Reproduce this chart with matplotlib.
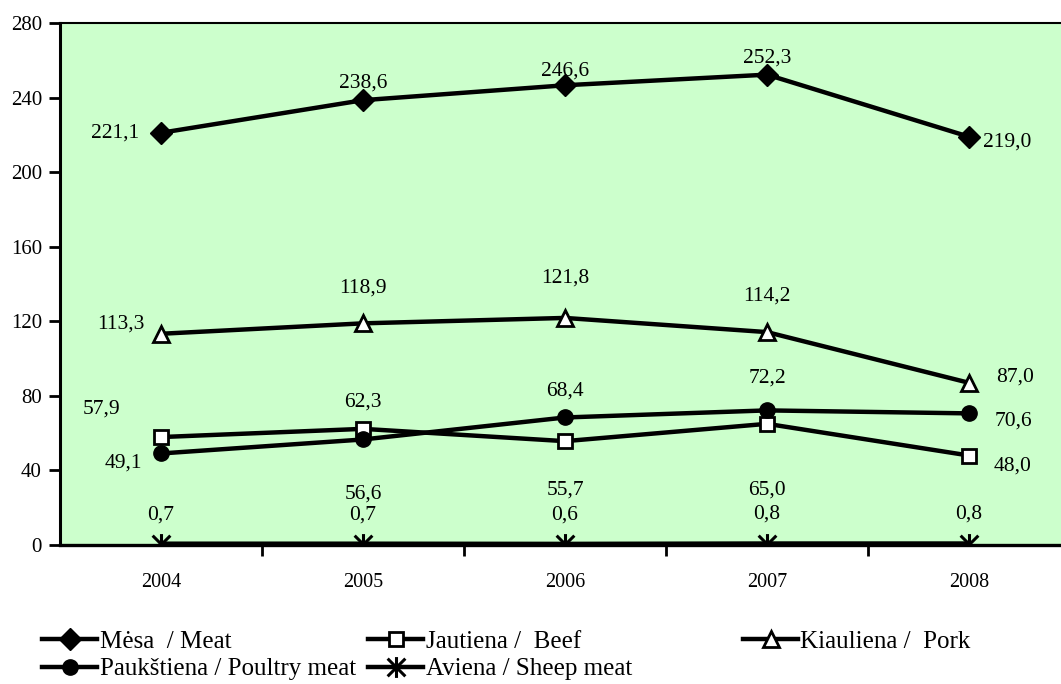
import numpy as np
import matplotlib
matplotlib.use("Agg")
import matplotlib.pyplot as plt
from matplotlib.path import Path

plt.rcParams['font.family'] = ['Liberation Serif', 'DejaVu Serif']

years = ["2004", "2005", "2006", "2007", "2008"]
meat = [221.1, 238.6, 246.6, 252.3, 219.0]
beef = [57.9, 62.3, 55.7, 65.0, 48.0]
pork = [113.3, 118.9, 121.8, 114.2, 87.0]
poultry = [49.1, 56.6, 68.4, 72.2, 70.6]
sheep = [0.7, 0.7, 0.6, 0.8, 0.8]

labels = ["Mėsa  / Meat", "Jautiena /  Beef", "Kiauliena /  Pork",
          "Paukštiena / Poultry meat", "Aviena / Sheep meat"]

# label offsets in pixels (dx, dy) for each point
off_meat = [(-46, 0), (0, 17), (0, 14), (0, 17), (38, -5)]
off_beef = [(-60, 28), (0, 27), (0, -49), (0, -66), (44, -11)]
off_pork = [(-40, 10), (0, 35), (0, 40), (0, 36), (46, 6)]
off_poultry = [(-38, -10), (0, -55), (0, 26), (0, 32), (44, -8)]
off_sheep = [(0, 29)] * 5

# asterisk: vertical line + X
star = Path([(0, -1), (0, 1), (-0.85, -0.85), (0.85, 0.85), (-0.85, 0.85), (0.85, -0.85)],
            [Path.MOVETO, Path.LINETO, Path.MOVETO, Path.LINETO, Path.MOVETO, Path.LINETO])

fig = plt.figure(figsize=(10.61, 6.84), dpi=100)
ax = fig.add_axes([60 / 1061, 139 / 684, 1010 / 1061, 522 / 684])
ax.set_facecolor("#ccffcc")

x = np.arange(len(years))
lw = 3.2
h_meat, = ax.plot(x, meat, color="black", lw=lw, marker="D", ms=11, mfc="black", mec="black")
h_beef, = ax.plot(x, beef, color="black", lw=lw, marker="s", ms=10, mfc="white", mec="black", mew=2)
h_pork, = ax.plot(x, pork, color="black", lw=lw, marker="^", ms=12, mfc="white", mec="black", mew=2)
h_poul, = ax.plot(x, poultry, color="black", lw=lw, marker="o", ms=11, mfc="black", mec="black")
h_sheep, = ax.plot(x, sheep, color="black", lw=lw, marker=star, ms=15, mfc="none", mec="black", mew=2.2)

def fmt(v):
    return f"{v:.1f}".replace(".", ",")

for vals, offs in [(meat, off_meat), (beef, off_beef), (pork, off_pork),
                   (poultry, off_poultry), (sheep, off_sheep)]:
    for i, v in enumerate(vals):
        ax.annotate(fmt(v), (x[i], v), xytext=offs[i], textcoords="offset pixels",
                    ha="center", va="center", fontsize=15.5)

ax.set_xlim(-0.5, 4.5)
ax.set_ylim(0, 280)
ax.set_yticks(np.arange(0, 281, 40))
ax.set_xticks(x)
ax.set_xticklabels(years)
ax.set_xticks(np.arange(0.5, 4.6, 1), minor=True)
ax.tick_params(axis="x", which="major", length=0, pad=20, labelsize=14.5)
ax.tick_params(axis="x", which="minor", length=8, width=2, direction="out")
ax.tick_params(axis="y", length=8, width=2, direction="out", pad=5, labelsize=15)

ax.spines["right"].set_visible(False)
ax.spines["left"].set_linewidth(2.2)
ax.spines["bottom"].set_linewidth(2.4)
ax.spines["top"].set_linewidth(1.5)

leg1 = fig.legend([h_meat, h_poul, h_beef, h_sheep],
                  [labels[0], labels[3], labels[1], labels[4]],
                  ncol=2, loc="upper left", bbox_to_anchor=(32 / 1061, 1 - 620 / 684),
                  frameon=False, fontsize=18, handlelength=2.2, handletextpad=0.1,
                  columnspacing=0.5, labelspacing=0.22, borderaxespad=0)
leg2 = fig.legend([h_pork], [labels[2]], loc="upper left",
                  bbox_to_anchor=(733 / 1061, 1 - 620 / 684),
                  frameon=False, fontsize=18, handlelength=2.2, handletextpad=0.1,
                  borderaxespad=0)

fig.savefig("out.png", dpi=100)
